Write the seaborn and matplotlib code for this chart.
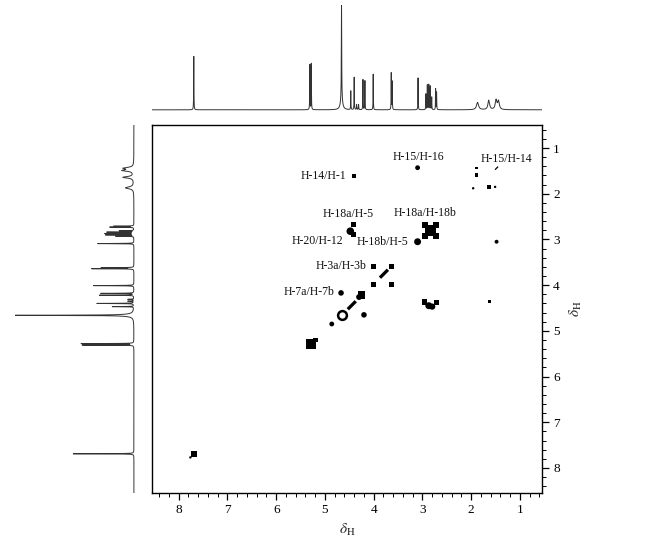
import numpy as np
import pandas as pd
import matplotlib
matplotlib.use("Agg")
import matplotlib.pyplot as plt
from matplotlib.path import Path
from matplotlib.ticker import MultipleLocator
import seaborn as sns

# ---------------------------------------------------------
# 1D 1H spectrum: peak list
# ---------------------------------------------------------
peak_ppm = [7.69, 5.31, 5.28, 4.66, 4.66, 4.47, 4.40, 4.35, 4.31, 4.22, 4.18,
            4.01, 3.64, 3.62, 3.09, 2.93, 2.90, 2.87, 2.84, 2.81, 2.73, 2.71,
            1.87, 1.64, 1.49, 1.44]
peak_height = [0.51, 0.44, 0.44, 0.96, 0.10, 0.18, 0.31, 0.05, 0.05, 0.29, 0.28,
               0.34, 0.35, 0.27, 0.31, 0.15, 0.24, 0.24, 0.23, 0.12, 0.20, 0.17,
               0.07, 0.09, 0.09, 0.08]
peak_width = [0.003, 0.003, 0.003, 0.004, 0.025, 0.003, 0.003, 0.004, 0.004, 0.003, 0.003,
              0.003, 0.003, 0.003, 0.003, 0.003, 0.003, 0.003, 0.003, 0.003, 0.003, 0.003,
              0.025, 0.02, 0.02, 0.02]

# ---------------------------------------------------------
# COSY contour peaks (x = F2 ppm, y = F1 ppm, marker area)
# ---------------------------------------------------------
square_x = [4.40, 2.95, 2.72, 2.95, 2.72, 2.84, 2.90, 2.78, 2.90, 2.78,
            4.42, 4.42, 4.01, 3.63, 4.01, 3.63, 4.25, 2.95, 2.72, 1.63,
            5.28, 5.20, 7.69, 1.89, 1.89, 1.63]
square_y = [1.61, 2.68, 2.68, 2.92, 2.92, 2.80, 2.74, 2.86, 2.86, 2.74,
            2.68, 2.90, 3.60, 3.60, 3.98, 3.98, 4.22, 4.37, 4.38, 4.36,
            5.29, 5.20, 7.70, 1.44, 1.59, 1.85]
square_s = [9, 16, 16, 16, 16, 30, 16, 16, 16, 16,
            12, 14, 14, 14, 14, 14, 30, 14, 12, 6,
            55, 12, 18, 3, 6, 7]

circle_x = [3.10, 3.10, 1.48, 4.48, 4.67, 4.20, 4.86, 4.30, 2.87, 2.80, 1.96, 1.51, 7.76]
circle_y = [1.43, 3.05, 3.05, 2.82, 4.17, 4.65, 4.85, 4.26, 4.45, 4.47, 1.88, 1.85, 7.77]
circle_s = [12, 25, 8, 30, 16, 16, 12, 18, 25, 20, 3, 3, 3]

dash_x = [3.79, 4.45, 1.48]
dash_y = [3.75, 4.44, 1.44]
dash_s = [55, 55, 8]

ring_x = [4.66]
ring_y = [4.65]

# peak assignments
label_text = ['H-15/H-16', 'H-14/H-1', 'H-15/H-14', 'H-18a/H-5', 'H-18a/H-18b',
              'H-20/H-12', 'H-18b/H-5', 'H-3a/H-3b', 'H-7a/H-7b']
label_x = [3.09, 4.56, 1.27, 4.52, 2.95, 4.63, 3.29, 4.15, 4.80]
label_y = [1.19, 1.61, 1.24, 2.45, 2.43, 3.03, 3.05, 3.58, 4.16]
label_ha = ['center', 'right', 'center', 'center', 'center', 'right', 'right', 'right', 'right']

# ---------------------------------------------------------
# Style
# ---------------------------------------------------------
sns.set_theme(style="white")
plt.rcParams['font.family'] = ['Liberation Serif', 'DejaVu Serif']
plt.rcParams['mathtext.fontset'] = 'stix'
plt.rcParams['axes.edgecolor'] = 'black'
plt.rcParams['axes.linewidth'] = 1.0

X_LIM = (8.55, 0.55)
Y_LIM = (8.55, 0.5)

# build 1D trace from the peak list (Lorentzian lines)
ppm = np.linspace(0.4, 8.7, 9000)
spec = np.zeros_like(ppm)
for c, h, w in zip(peak_ppm, peak_height, peak_width):
    spec += h / (1 + ((ppm - c) / w) ** 2)
spec_df = pd.DataFrame({'ppm': ppm, 'intensity': spec})

fig = plt.figure(figsize=(6.49, 5.54), dpi=100)
ax = fig.add_axes([0.234, 0.110, 0.601, 0.664])
ax_top = fig.add_axes([0.234, 0.798, 0.601, 0.193])
ax_left = fig.add_axes([0.023, 0.110, 0.187, 0.664])

# top projection
sns.lineplot(data=spec_df, x='ppm', y='intensity', ax=ax_top, color='#333333',
             linewidth=0.7, estimator=None, sort=False)
ax_top.set_xlim(X_LIM)
ax_top.set_ylim(-0.02, 1.0)
ax_top.axis('off')

# left projection
sns.lineplot(data=spec_df, x='intensity', y='ppm', ax=ax_left, color='#333333',
             linewidth=0.7, estimator=None, sort=False, orient='y')
ax_left.set_xlim(1.0, -0.02)
ax_left.set_ylim(Y_LIM)
ax_left.axis('off')

# 2D contour peaks
dash_marker = Path([(-1, -0.55), (0.55, 1), (1, 0.55), (-0.55, -1), (-1, -0.55)],
                   [Path.MOVETO, Path.LINETO, Path.LINETO, Path.LINETO, Path.CLOSEPOLY])
sns.scatterplot(x=square_x, y=square_y, s=square_s, marker='s', color='black',
                linewidth=0, ax=ax)
sns.scatterplot(x=circle_x, y=circle_y, s=circle_s, marker='o', color='black',
                linewidth=0, ax=ax)
sns.scatterplot(x=dash_x, y=dash_y, s=dash_s, marker=dash_marker, color='black',
                linewidth=0, ax=ax)
sns.scatterplot(x=ring_x, y=ring_y, s=40, marker='o', facecolor='white',
                edgecolor='black', linewidth=1.8, ax=ax)

for t, x, y, ha in zip(label_text, label_x, label_y, label_ha):
    ax.text(x, y, t, ha=ha, va='center', fontsize=8.5, color='#111111')

ax.set_xlim(X_LIM)
ax.set_ylim(Y_LIM)
ax.xaxis.set_major_locator(MultipleLocator(1))
ax.xaxis.set_minor_locator(MultipleLocator(0.2))
ax.yaxis.set_major_locator(MultipleLocator(1))
ax.yaxis.set_minor_locator(MultipleLocator(0.2))
ax.yaxis.tick_right()
ax.yaxis.set_label_position('right')
ax.tick_params(axis='both', which='major', direction='out', length=5, width=0.9,
               labelsize=9.5, color='black', labelcolor='black', pad=3)
ax.tick_params(axis='both', which='minor', direction='out', length=3, width=0.7, color='black')
ax.tick_params(axis='x', which='both', bottom=True, top=False)
ax.tick_params(axis='y', which='both', right=True, left=False)
ax.set_xlabel(r'$\delta_{\mathrm{H}}$', fontsize=11, labelpad=4)
ax.set_ylabel(r'$\delta_{\mathrm{H}}$', fontsize=11, labelpad=6)
ax.grid(False)

plt.savefig('out.png', dpi=100)
plt.close()
